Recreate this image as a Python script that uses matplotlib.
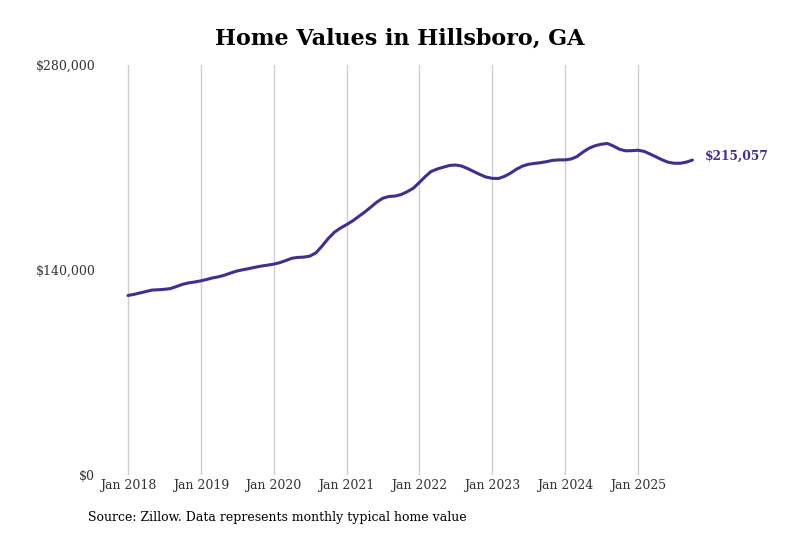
import matplotlib
matplotlib.use("Agg")
import matplotlib.pyplot as plt
import matplotlib.dates as mdates
from matplotlib.ticker import FuncFormatter
import pandas as pd

LINE = "#3b3190"
GRID = "#cfcfcf"
TEXT = "#333333"
SERIF = ["DejaVu Serif"]

months = pd.date_range("2018-01-01", "2025-10-01", freq="MS")
values = [
    # 2018
    122600, 123400, 124300, 125300, 126300, 126500, 126800, 127300, 128700, 130200, 131200, 131800,
    # 2019
    132600, 133600, 134600, 135400, 136500, 138000, 139300, 140200, 141000, 141900, 142700, 143300,
    # 2020
    144000, 145000, 146400, 148000, 148600, 148800, 149500, 151800, 156500, 161500, 165800, 168600,
    # 2021
    171000, 173600, 176400, 179500, 182800, 186300, 189000, 190200, 190500, 191500, 193500, 195800,
    # 2022
    199800, 204000, 207300, 209000, 210200, 211400, 211700, 211000, 209200, 207200, 205200, 203500,
    # 2023
    202600, 202500, 203800, 206000, 208700, 210900, 212200, 212800, 213300, 214000, 214900, 215200,
    # 2024
    215200, 215800, 217500, 220600, 223200, 224900, 225900, 226400, 224600, 222400, 221400, 221500,
    # 2025
    221800, 221000, 219300, 217300, 215300, 213600, 212900, 212900, 213700, 215057,
]
year_ticks = pd.date_range("2018-01-01", "2025-01-01", freq="YS")
y_ticks = [0, 140000, 280000]

W, H = 800, 533
fig = plt.figure(figsize=(W / 100, H / 100), dpi=100)

# axes placed so Jan 2018 sits at x=128px and Jan 2025 at x=638px
ax_left, ax_right = 105, 700
ax = fig.add_axes([ax_left / W, (H - 475) / H, (ax_right - ax_left) / W, (475 - 65) / H])
d0 = mdates.date2num(pd.Timestamp("2018-01-01"))
d1 = mdates.date2num(pd.Timestamp("2025-01-01"))
px_per_day = (638 - 128) / (d1 - d0)
ax.set_xlim(d0 - (128 - ax_left) / px_per_day, d0 + (ax_right - 128) / px_per_day)
ax.set_ylim(0, 280000)

ax.plot(months, values, color=LINE, linewidth=2.2, solid_capstyle="round")

ax.set_xticks(year_ticks)
ax.xaxis.set_major_formatter(mdates.DateFormatter("Jan %Y"))
ax.set_yticks(y_ticks)
ax.yaxis.set_major_formatter(FuncFormatter(lambda v, p: f"${v:,.0f}"))
ax.tick_params(length=0, colors=TEXT, labelsize=9)
ax.tick_params(axis="x", pad=3)
ax.tick_params(axis="y", pad=7)
for lab in ax.get_xticklabels() + ax.get_yticklabels():
    lab.set_family(SERIF)
ax.grid(axis="x", color=GRID, linewidth=1)
ax.grid(axis="y", visible=False)
for spine in ax.spines.values():
    spine.set_visible(False)

ax.annotate(f"${values[-1]:,}", (months[-1], values[-1]), xytext=(9, 3),
            textcoords="offset points", va="center", ha="left",
            color=LINE, fontsize=8.8, fontweight="bold", family=SERIF)

fig.text(0.5, 1 - 39 / H, "Home Values in Hillsboro, GA", ha="center", va="center",
         fontsize=16, fontweight="bold", family=SERIF, color="black")
fig.text(88 / W, 1 - 517 / H, "Source: Zillow. Data represents monthly typical home value",
         ha="left", va="center", fontsize=9, family=SERIF, color="black")

fig.savefig("out.png", dpi=100, facecolor="white")
